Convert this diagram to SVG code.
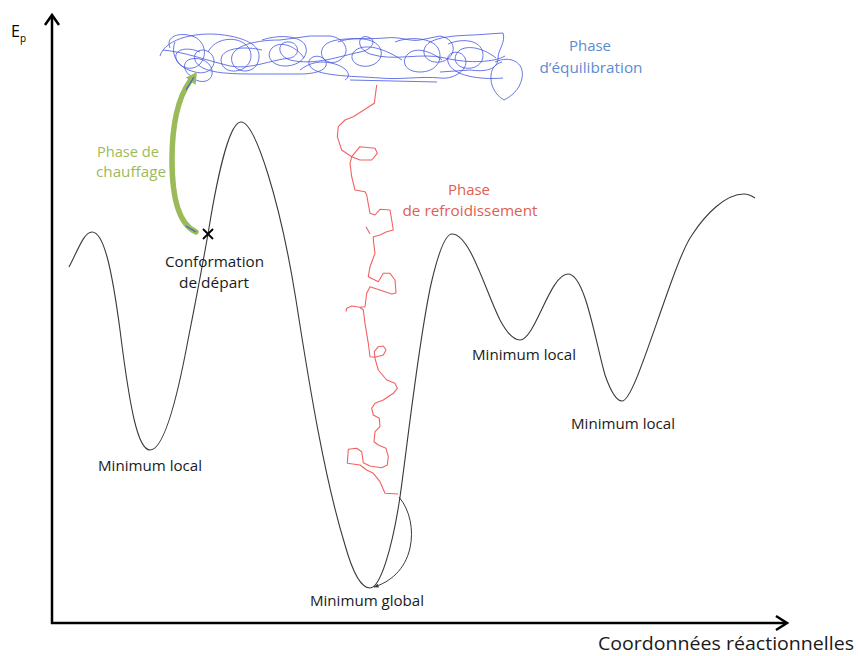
<svg xmlns="http://www.w3.org/2000/svg" width="858" height="656" viewBox="0 0 858 656">
<style>
text{font-family:"Open Sans","Liberation Sans",sans-serif;font-size:15px;text-anchor:middle}
.k{fill:#1a1a1a}
.g{fill:#9bbb59}
.b{fill:#5b8bd0}
.r{fill:#e0604f}
.ax{stroke:#000;stroke-width:2.5;fill:none}
.curve{stroke:#3a3a3a;stroke-width:1.1;fill:none}
.blue{stroke:#4455dd;stroke-width:1;fill:none;stroke-opacity:.8;stroke-linejoin:round}
.red{stroke:#f04545;stroke-width:1.1;fill:none;stroke-opacity:.85;stroke-linejoin:round}
</style>
<defs>
<marker id="ah" viewBox="0 0 10 10" refX="9" refY="5" markerWidth="5" markerHeight="5" orient="auto">
<path d="M0,1 L10,5 L0,9 z" fill="#3a3a3a"/>
</marker>
</defs>

<g id="axes">
<path class="ax" d="M52,624 L52,16"/>
<path class="ax" d="M45,25 L52,15 L59,25"/>
<path class="ax" d="M51,623 L786,623"/>
<path class="ax" d="M776,616 L787,623 L776,630"/>
<text x="11" y="37" style="font-size:16px;text-anchor:start;fill:#000">E<tspan dy="5" style="font-size:10px">p</tspan></text>
<text x="726" y="650" style="font-size:18px;fill:#1a1a1a" textLength="256" lengthAdjust="spacingAndGlyphs">Coordonnées réactionnelles</text>
</g>

<g id="energy-curve">
<path class="curve" d="M69,267 C78,250 84,232 92,232 C104,232 112,270 120,330 C130,410 138,450 150,450 C162,450 175,410 188,340 C196,300 203,262 208,234 C215,190 228,122 241,122 C255,122 280,200 296,300 C310,390 325,480 345,545 C352,570 360,588 370,588 C380,588 392,550 400,497 C408,440 420,330 432,280 C438,255 445,234 452,234 C470,234 485,290 500,320 C508,335 514,340 520,340 C535,340 550,274 568,274 C585,274 595,340 605,375 C612,395 617,401 622,401 C632,401 650,340 672,280 C680,258 685,245 692,235 C705,215 725,194 744,194 C748,194 752,196 755,198"/>
</g>

<g id="equilibration">
<path class="blue" d="M160,56 C165,38 200,30 230,36 C255,41 262,50 258,62 C254,74 236,74 232,62 C228,48 250,40 280,40 L310,36 L330,36 C345,38 352,52 340,60 C328,68 315,55 325,45 C335,36 360,40 385,38 C400,36 410,42 420,40 L440,36 C460,40 455,60 440,62 C425,64 418,50 430,42 C445,34 470,36 488,34 L503,33 C506,42 498,50 498,58 C498,70 485,72 470,70 L440,72"/>
<path class="blue" d="M175,42 C170,55 178,68 195,72 C210,76 218,64 212,55 C205,46 192,50 195,60 C200,74 230,74 260,74 L300,74 C320,74 330,68 325,60 C318,52 305,58 310,66 C315,76 350,76 380,78 C400,80 420,76 440,78 C455,80 470,68 465,58 C460,48 445,52 448,62 C452,76 480,80 503,78"/>
<path class="blue" d="M163,50 C185,52 205,60 230,66 C250,70 270,60 290,58 C300,56 300,44 290,42 C278,40 275,55 290,60 C315,66 340,56 360,52 C372,50 378,40 368,37 C358,34 355,48 370,54 C395,62 420,52 445,58 C470,64 495,62 505,56"/>
<path class="blue" d="M495,62 C510,55 525,62 522,78 C520,90 510,97 504,100 C495,95 490,85 491,75 C492,68 495,64 502,62"/>
<path class="blue" d="M192,77 C184,72 182,64 188,60 C196,56 210,60 212,70 C214,80 204,84 196,80"/>
<path class="blue" d="M170,48 C165,36 180,32 192,36 C205,40 208,55 200,64 C192,72 178,68 176,58 C174,50 186,46 200,52"/>
<path class="blue" d="M208,52 C215,38 235,36 245,44 C255,52 252,66 240,70 C228,74 218,66 222,56 C226,48 245,46 262,50"/>
<path class="blue" d="M262,40 C280,34 300,36 305,45 C310,55 300,66 285,66 C272,66 265,56 272,48 C280,40 296,46 304,58"/>
<path class="blue" d="M338,42 C355,36 375,38 380,48 C385,58 375,68 362,66 C350,64 348,52 360,48 C372,44 390,52 402,60"/>
<path class="blue" d="M395,42 C410,36 432,38 438,48 C444,60 436,72 420,72 C406,72 400,62 408,54 C416,46 432,52 442,60"/>
<path class="blue" d="M448,44 C462,38 478,40 482,50 C486,60 478,70 465,68 C454,66 452,56 460,50 C470,44 486,50 496,58"/>
<path class="blue" d="M350,80 L437,82"/>
<path class="blue" d="M300,70 C310,62 322,60 335,64 C348,68 352,76 345,80"/>
</g>

<g id="refroidissement">
<path class="red" d="M376.7,85 L374.3,103.3 L353.3,116.7 L345,120 L338.3,126.7 L337.3,136.7 L341.7,150 L351.7,156.7 L360,146.7 L375,148.3 L377.3,153.3 L371.7,160 L360,160 L351.7,156.7 L350,163.3 L351.7,176.7 L355,190 L365,191.7 L366.7,195 L370,213.3 L375,215 L380,209.3 L390,210 L391.7,220 L393.3,230 L386.7,231.7 L380,235 L373.3,236.7 L373.3,240 L375,253.3 L370,266.7 L368.3,276.7 L378.3,281.7 L383.3,273.3 L390,273.3 L395,280 L396,293 L391.7,294 L370,286.7 L366.7,293.3 L365,306.7 L360,307.3 L351.7,306 L346.7,308.3 L346,311.7 M360,307.5 L363.3,310 L365,323.3 L368.3,343.3 L370,356.7 L375,357.3 L383.3,355 L386,350 L383.3,346 L378.3,346.7 L374.3,351.7 L375,358.3 L378.3,370 L386.7,380 L395,383.3 L397.3,388.3 L393.3,393.3 L383.3,400 L375,403.3 L371.7,408.3 L373.3,415 L379.3,418.3 L380,426.7 L375,431.7 L374,441.7 L378.3,445 L386,448.3 L388.3,456.7 L387.3,465 L381.7,467.7 L370,466 L363.3,462.7 L361.7,451.7 L356.7,448.3 L348.3,449.3 L347.3,463.3 L360,465 L366.7,470 L373.3,473.3 L380,481.7 L385,493.3 L398.3,494"/>
<path class="red" d="M366,226.7 L370,234" stroke-width="1.6"/>
</g>

<g id="connectors">
<path d="M399,497 C410,510 414,530 410,548 C405,570 390,582 374,587" stroke="#3a3a3a" stroke-width="1" fill="none" marker-end="url(#ah)"/>
<path d="M196,232 C180,225 172,200 172,160 C172,120 180,95 190,81" stroke="#9bbb59" stroke-width="5.5" fill="none" stroke-linecap="round"/>
<polygon points="197,72 186,77.5 195.5,85" fill="#9bbb59"/>
<path d="M186,90 L194,77" stroke="#4466cc" stroke-width="1.3" fill="none"/>
<path d="M186,226 L196,232" stroke="#4466cc" stroke-width="1.3" fill="none"/>
</g>

<g id="start-mark">
<path d="M203,229 L213,239 M213,229 L203,239" stroke="#000" stroke-width="1.8"/>
</g>

<g id="labels">
<text class="g" x="128" y="157" textLength="62" lengthAdjust="spacingAndGlyphs">Phase de</text>
<text class="g" x="131" y="177" textLength="70" lengthAdjust="spacingAndGlyphs">chauffage</text>
<text class="k" x="214.5" y="267" textLength="99" lengthAdjust="spacingAndGlyphs">Conformation</text>
<text class="k" x="214" y="288" textLength="70" lengthAdjust="spacingAndGlyphs">de départ</text>
<text class="b" x="590" y="51" textLength="42" lengthAdjust="spacingAndGlyphs">Phase</text>
<text class="b" x="591" y="73" textLength="103" lengthAdjust="spacingAndGlyphs">d’équilibration</text>
<text class="r" x="469" y="195" textLength="42" lengthAdjust="spacingAndGlyphs">Phase</text>
<text class="r" x="470" y="216" textLength="135" lengthAdjust="spacingAndGlyphs">de refroidissement</text>
<text class="k" x="150" y="471" textLength="104" lengthAdjust="spacingAndGlyphs">Minimum local</text>
<text class="k" x="524" y="360" textLength="104" lengthAdjust="spacingAndGlyphs">Minimum local</text>
<text class="k" x="623" y="429" textLength="104" lengthAdjust="spacingAndGlyphs">Minimum local</text>
<text class="k" x="367" y="606" textLength="114" lengthAdjust="spacingAndGlyphs">Minimum global</text>
</g>
</svg>
